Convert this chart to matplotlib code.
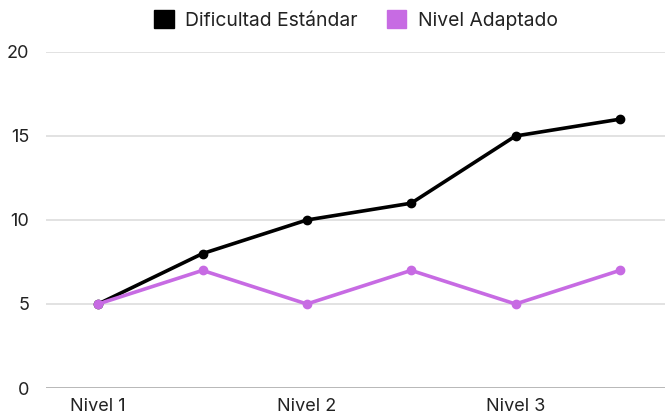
import matplotlib.pyplot as plt
from matplotlib.patches import Patch

plt.rcParams['font.family'] = ['Inter', 'DejaVu Sans']

steps = [0, 1, 2, 3, 4, 5]
standard = [5, 8, 10, 11, 15, 16]
adapted = [5, 7, 5, 7, 5, 7]
tick_pos = [0, 2, 4]
tick_labels = ["Nivel 1", "Nivel 2", "Nivel 3"]
series_names = ["Dificultad Estándar", "Nivel Adaptado"]
colors = ["black", "#c76be3"]

W, H = 665, 415
fig = plt.figure(figsize=(W / 100, H / 100), dpi=100)
ax = fig.add_axes([46 / W, 27 / H, (672 - 46) / W, (388 - 52) / H])

ax.plot(steps, standard, color=colors[0], lw=2.6, marker="o", ms=6, zorder=3)
ax.plot(steps, adapted, color=colors[1], lw=2.6, marker="o", ms=6, zorder=4)

ax.set_xlim(-0.5, 5.5)
ax.set_ylim(0, 20)
ax.set_yticks([0, 5, 10, 15, 20])
ax.set_xticks(tick_pos, tick_labels)
ax.grid(axis="y", color="#dddddd", lw=1.2)
ax.axhline(0, color="#b5b5b5", lw=2.0, zorder=2)
for s in ax.spines.values():
    s.set_visible(False)
ax.tick_params(length=0, labelsize=13, colors="#222222")
ax.tick_params(axis="y", pad=12)
ax.tick_params(axis="x", pad=7)

handles = [Patch(color=c) for c in colors]
fig.legend(handles, series_names, loc="center",
           bbox_to_anchor=(356 / W, 1 - 20 / H), ncol=2, frameon=False,
           fontsize=13.9, handlelength=1.0, handleheight=1.0,
           columnspacing=1.5, handletextpad=0.6, labelcolor="#222222")

fig.savefig("out.png", dpi=100)
